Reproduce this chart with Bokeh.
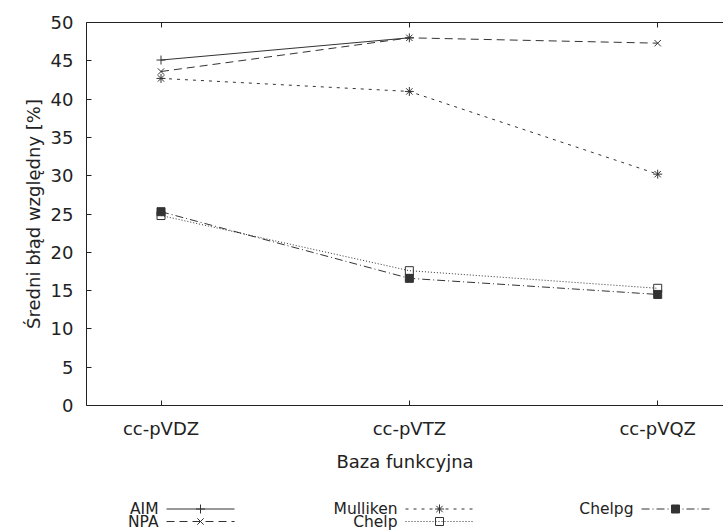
import math
from bokeh.plotting import figure
from bokeh.models import Range1d, FixedTicker, LinearAxis, ColumnDataSource
from bokeh.layouts import column
from bokeh.core.properties import value
from bokeh.embed import file_html
from bokeh.resources import INLINE

# ---- data ----
categories = ["cc-pVDZ", "cc-pVTZ", "cc-pVQZ"]
series_names = ["AIM", "NPA", "Mulliken", "Chelp", "Chelpg"]
aim = [45.1, 48.0, float("nan")]
npa = [43.6, 48.0, 47.3]
mulliken = [42.7, 41.0, 30.2]
chelp = [24.8, 17.6, 15.3]
chelpg = [25.3, 16.6, 14.5]
y_ticks = [0, 5, 10, 15, 20, 25, 30, 35, 40, 45, 50]
x_label = "Baza funkcyjna"
y_label = "Średni błąd względny [%]"

FONT = "DejaVu Sans"
FS = "18px"
LFS = "15.5px"
LC = "#333333"
TC = "#222222"

xs = [i + 1 for i in range(len(categories))]

styles = {
    "AIM": dict(dash="solid", marker="cross", fill=None, size=9),
    "NPA": dict(dash="8 5", marker="x", fill=None, size=9),
    "Mulliken": dict(dash="3 5", marker="asterisk", fill=None, size=9),
    "Chelp": dict(dash="1 2", marker="square", fill=None, size=8),
    "Chelpg": dict(dash="8 3 1 3", marker="square", fill=LC, size=8),
}
values = {"AIM": aim, "NPA": npa, "Mulliken": mulliken, "Chelp": chelp, "Chelpg": chelpg}

p = figure(width=723, height=492, output_backend="svg", toolbar_location=None,
           x_range=Range1d(0.70, 3.265), y_range=Range1d(0, 50),
           min_border_left=86, min_border_right=0, min_border_top=22, min_border_bottom=87,
           x_axis_location=None, y_axis_location=None)
p.outline_line_color = None
p.xgrid.visible = False
p.ygrid.visible = False
p.background_fill_color = "white"
p.border_fill_color = "white"

def style_axis(ax):
    ax.axis_line_color = TC
    ax.axis_line_width = 1
    ax.major_tick_line_color = TC
    ax.major_tick_in = 5
    ax.major_tick_out = 0
    ax.minor_tick_line_color = None
    ax.major_label_text_font = FONT
    ax.major_label_text_font_size = FS
    ax.major_label_text_color = TC
    ax.axis_label_text_font = FONT
    ax.axis_label_text_font_size = FS
    ax.axis_label_text_font_style = "normal"
    ax.axis_label_text_color = TC

xticker = FixedTicker(ticks=xs)
overrides = {x: c for x, c in zip(xs, categories)}

xb = LinearAxis(ticker=xticker, major_label_overrides=overrides, axis_label=x_label)
style_axis(xb)
xb.major_label_standoff = 12
xb.axis_label_standoff = 9
p.add_layout(xb, "below")

xt = LinearAxis(ticker=xticker, major_label_overrides={x: "" for x in xs})
style_axis(xt)
xt.major_label_text_font_size = "0px"
p.add_layout(xt, "above")

yl = LinearAxis(ticker=FixedTicker(ticks=y_ticks), axis_label=y_label)
style_axis(yl)
yl.major_label_standoff = 13
yl.axis_label_standoff = 4
p.add_layout(yl, "left")

for name in series_names:
    st = styles[name]
    src = ColumnDataSource(dict(x=xs, y=values[name]))
    p.line("x", "y", source=src, line_color=LC, line_width=1, line_dash=st["dash"])
    p.scatter("x", "y", source=src, marker=st["marker"], size=st["size"],
              line_color=LC, line_width=1, fill_color=st["fill"])

# ---- legend (gnuplot style: label, then sample) ----
# legend panel's frame is aligned with the main frame, so map it in page pixels
lg = figure(width=723, height=40, output_backend="svg", toolbar_location=None,
            x_range=Range1d(86, 723), y_range=Range1d(40, 0),
            min_border_left=86, min_border_right=0, min_border_top=0, min_border_bottom=0,
            x_axis_location=None, y_axis_location=None)
lg.outline_line_color = None
lg.xgrid.visible = False
lg.ygrid.visible = False

slots = [(158, 16.5), (158, 29), (397, 16.5), (397, 29), (633, 16.5)]
for name, (tx, ty) in zip(series_names, slots):
    st = styles[name]
    lg.text(x=[tx], y=[ty], text=[name], text_align="right", text_baseline="middle",
            text_font=value(FONT), text_font_size=LFS, text_color=TC)
    x0, x1 = tx + 8, tx + 76
    lg.line(x=[x0, x1], y=[ty, ty], line_color=LC, line_width=1, line_dash=st["dash"])
    lg.scatter(x=[(x0 + x1) / 2], y=[ty], marker=st["marker"], size=st["size"],
               line_color=LC, line_width=1, fill_color=st["fill"])

layout = column(p, lg, spacing=0)
open("out.html", "w").write(file_html(layout, INLINE))
